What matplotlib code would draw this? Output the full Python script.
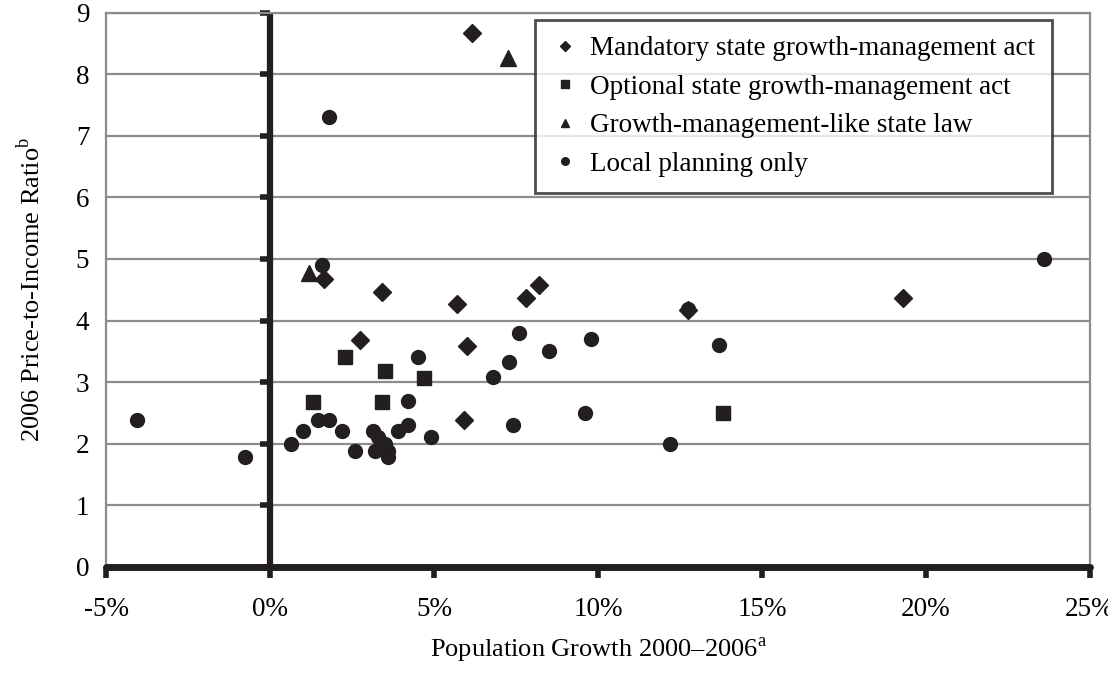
import matplotlib
matplotlib.use("Agg")
import matplotlib.pyplot as plt
from matplotlib.lines import Line2D
from matplotlib.markers import TICKLEFT

plt.rcParams['font.family'] = ['Liberation Serif', 'DejaVu Serif']
plt.rcParams['mathtext.fontset'] = 'custom'
plt.rcParams['mathtext.rm'] = 'Liberation Serif'

# population growth 2000-2006 (%) and 2006 price-to-income ratio, by planning regime
mandatory_x = [6.15, 1.65, 3.4, 5.7, 7.8, 8.2, 2.75, 6.0, 5.9, 12.75, 19.3]
mandatory_y = [8.68, 4.68, 4.46, 4.27, 4.36, 4.58, 3.68, 3.58, 2.38, 4.17, 4.36]

optional_x = [2.3, 3.5, 4.7, 1.3, 3.4, 13.8]
optional_y = [3.4, 3.18, 3.07, 2.68, 2.68, 2.49]

gm_like_x = [1.2, 7.25]
gm_like_y = [4.78, 8.27]

local_x = [1.8, 1.6, -4.05, -0.75, 0.65, 1.0, 1.45, 1.8, 2.2, 2.6, 3.15, 3.3, 3.5, 3.2,
           3.6, 3.6, 3.9, 4.2, 4.2, 4.9, 4.5, 6.8, 7.3, 7.6, 8.5, 7.4, 9.6, 9.8, 12.2,
           12.75, 13.7, 23.6]
local_y = [7.3, 4.9, 2.38, 1.78, 2.0, 2.2, 2.38, 2.38, 2.2, 1.88, 2.2, 2.1, 2.0, 1.88,
           1.88, 1.78, 2.2, 2.3, 2.7, 2.1, 3.4, 3.08, 3.32, 3.8, 3.5, 2.3, 2.5, 3.7, 2.0,
           4.18, 3.6, 5.0]

labels = ['Mandatory state growth-management act', 'Optional state growth-management act',
          'Growth-management-like state law', 'Local planning only']
x_ticks = [-5, 0, 5, 10, 15, 20, 25]
y_ticks = list(range(10))

ink = '#231f20'
fig = plt.figure(figsize=(11.08, 6.77), dpi=100)
ax = fig.add_axes([0.0957, 0.163, 0.888, 0.818])

ax.set_xlim(-5, 25)
ax.set_ylim(0, 9)
for yv in y_ticks[1:]:
    ax.axhline(yv, color='#8c8c8c', lw=1.6, zorder=1)

ax.plot(mandatory_x, mandatory_y, ls='none', marker='D', ms=9.5, color=ink, zorder=3)
ax.plot(optional_x, optional_y, ls='none', marker='s', ms=9.5, color=ink, zorder=3)
ax.plot(gm_like_x, gm_like_y, ls='none', marker='^', ms=11, color=ink, zorder=3)
ax.plot(local_x, local_y, ls='none', marker='o', ms=10, color=ink, zorder=3)

# heavy zero axis with its own tick stubs
ax.axvline(0, color=ink, lw=4.5, zorder=2)
ax.plot([0] * len(y_ticks), y_ticks, ls='none', marker=TICKLEFT, ms=7, mew=4,
        color=ink, clip_on=False, zorder=2)

for side in ['left', 'top', 'right']:
    ax.spines[side].set_color('#8c8c8c')
    ax.spines[side].set_linewidth(1.6)
ax.spines['bottom'].set_color(ink)
ax.spines['bottom'].set_linewidth(5)
ax.spines['bottom'].set_capstyle('round')

ax.set_xticks(x_ticks)
ax.set_xticklabels([f'{v}%' for v in x_ticks])
ax.set_yticks(y_ticks)
ax.tick_params(axis='x', direction='out', length=8, width=4, color=ink,
               labelsize=19.5, pad=14)
ax.tick_params(axis='y', length=0, labelsize=19.5, pad=12)

ax.set_xlabel(r'Population Growth 2000–2006$^{\mathrm{a}}$', fontsize=19, labelpad=10)
ax.set_ylabel(r'2006 Price-to-Income Ratio$^{\mathrm{b}}$', fontsize=19, labelpad=22)

handles = [Line2D([], [], ls='none', marker=m, ms=s, color=ink)
           for m, s in [('D', 5.5), ('s', 6), ('^', 6), ('o', 5.5)]]
leg = ax.legend(handles, labels, loc='upper right', bbox_to_anchor=(0.961, 0.987),
                fontsize=19.5, frameon=True, fancybox=False, handlelength=1.0,
                handletextpad=0.45, borderpad=0.6, labelspacing=0.5, borderaxespad=0)
leg.get_frame().set_edgecolor(ink)
leg.get_frame().set_linewidth(2)
leg.set_zorder(5)

fig.savefig('out.png', dpi=100)
